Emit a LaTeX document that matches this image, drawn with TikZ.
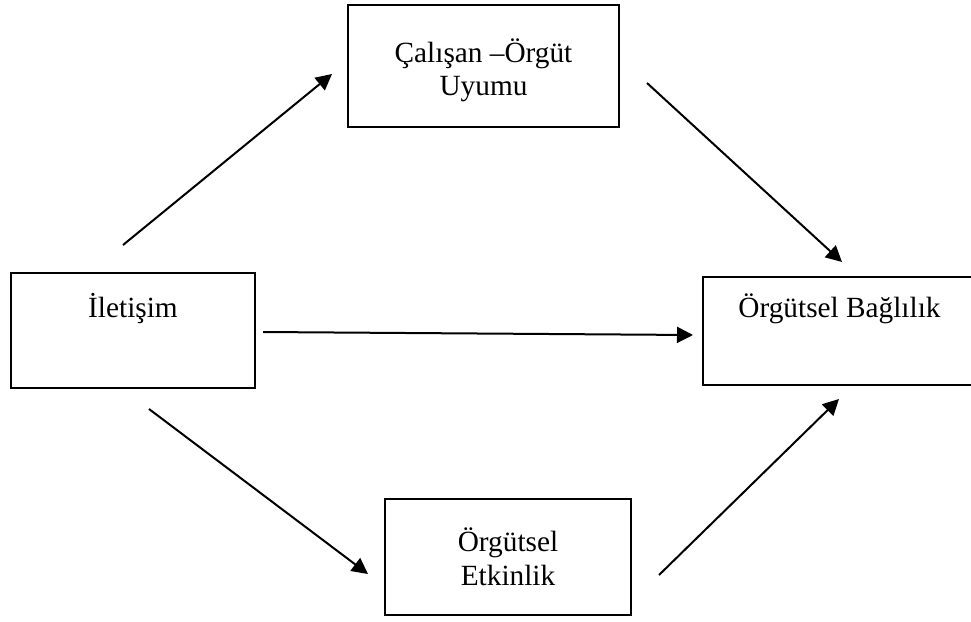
\documentclass[tikz,border=0pt]{standalone}
\usepackage{fontspec}
\setmainfont{Liberation Serif}
\usetikzlibrary{arrows.meta}

\tikzset{
  box/.style={draw=black, line width=2.2pt, rectangle, inner sep=0pt},
  lbl/.style={inner sep=0pt, anchor=base, font=\fontsize{29.3}{34}\selectfont},
  link/.style={line width=2pt, -{Triangle[length=16pt,width=16pt]}},
}

\begin{document}
\begin{tikzpicture}[x=1pt, y=-1pt]
  \useasboundingbox (0,0) rectangle (971,621);

  % boxes (centre, size)
  \node[box, minimum width=271pt, minimum height=122pt] (uyum)  at (483.5,66)  {};
  \node[box, minimum width=244pt, minimum height=115pt] (ilet)  at (133,330.5) {};
  \node[box, minimum width=272pt, minimum height=108pt] (bag)   at (839,331)   {};
  \node[box, minimum width=246pt, minimum height=116pt] (etkin) at (508,557)   {};

  % labels
  \node[lbl] (uyum-t1)  at (483.5,62) {Çalışan –Örgüt};
  \node[lbl] (uyum-t2)  at (483.5,95) {Uyumu};
  \node[lbl] (ilet-t)   at (133,317)  {İletişim};
  \node[lbl] (bag-t)    at (839.5,317) {Örgütsel Bağlılık};
  \node[lbl] (etkin-t1) at (508,551)  {Örgütsel};
  \node[lbl] (etkin-t2) at (508,585)  {Etkinlik};

  % free ends of the arrows
  \coordinate (ilet-up)    at (123,245);
  \coordinate (uyum-in)    at (332,74);
  \coordinate (uyum-out)   at (647,83);
  \coordinate (bag-in-top) at (842,262);
  \coordinate (ilet-right) at (263,332);
  \coordinate (bag-in-mid) at (693,335);
  \coordinate (ilet-down)  at (149,409);
  \coordinate (etkin-in)   at (368,574);
  \coordinate (etkin-out)  at (659,575);
  \coordinate (bag-in-bot) at (839,399);

  % arrows
  \draw[link] (ilet-up)    -- (uyum-in);
  \draw[link] (uyum-out)   -- (bag-in-top);
  \draw[link] (ilet-right) -- (bag-in-mid);
  \draw[link] (ilet-down)  -- (etkin-in);
  \draw[link] (etkin-out)  -- (bag-in-bot);
\end{tikzpicture}
\end{document}
